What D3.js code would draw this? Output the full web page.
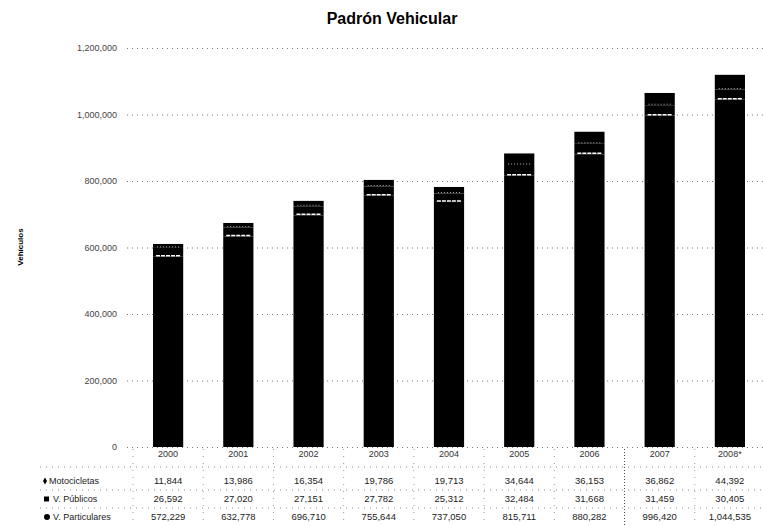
<!DOCTYPE html>
<html>
<head>
<meta charset="utf-8">
<script src="https://cdn.jsdelivr.net/npm/d3@7"></script>
<style>
  body { margin: 0; background: #fff; }
  text { font-family: "Liberation Sans", Arial, sans-serif; }
</style>
</head>
<body>
<script>
// Data
var years = ["2000", "2001", "2002", "2003", "2004", "2005", "2006", "2007", "2008*"];
var motocicletas = [11844, 13986, 16354, 19786, 19713, 34644, 36153, 36862, 44392];
var publicos = [26592, 27020, 27151, 27782, 25312, 32484, 31668, 31459, 30405];
var particulares = [572229, 632778, 696710, 755644, 737050, 815711, 880282, 996420, 1044535];
var seriesNames = ["Motocicletas", "V. Públicos", "V. Particulares"];
var yTicks = [0, 200000, 400000, 600000, 800000, 1000000, 1200000];

var width = 763;
var height = 526;

var svg = d3.select("body").append("svg")
    .attr("width", width)
    .attr("height", height);

var rows = years.map(function (y, i) {
    return { year: y, part: particulares[i], pub: publicos[i], moto: motocicletas[i] };
});

// Scales
var x = d3.scaleBand()
    .domain(years)
    .range([133, 765])
    .paddingInner(0.57)
    .paddingOuter(0.285);

var y = d3.scaleLinear()
    .domain([0, 1200000])
    .range([447, 48]);

var fmt = d3.format(",");

// Title
svg.append("text")
    .attr("x", 392)
    .attr("y", 24)
    .attr("text-anchor", "middle")
    .attr("font-size", "16px")
    .attr("font-weight", "bold")
    .text("Padrón Vehicular");

// Y label
svg.append("text")
    .attr("transform", "translate(23,247) rotate(-90)")
    .attr("text-anchor", "middle")
    .attr("font-size", "8px")
    .attr("font-weight", "bold")
    .text("Vehículos");

// Grid + axis
var yAxis = d3.axisLeft(y)
    .tickValues(yTicks)
    .tickSize(-(765 - 127))
    .tickPadding(10)
    .tickFormat(fmt);

var gy = svg.append("g")
    .attr("transform", "translate(127,0)")
    .call(yAxis);
gy.select(".domain").remove();
gy.selectAll(".tick line")
    .attr("stroke", "#777")
    .attr("stroke-dasharray", "1,4");
gy.selectAll(".tick text")
    .attr("font-size", "9px")
    .attr("fill", "#444");

// Stacked bars
var stack = d3.stack().keys(["part", "pub", "moto"]);
var layers = stack(rows);

svg.append("g")
    .selectAll("g")
    .data(layers)
    .enter().append("g")
    .selectAll("rect")
    .data(function (d) { return d; })
    .enter().append("rect")
    .attr("x", function (d) { return x(d.data.year); })
    .attr("width", x.bandwidth())
    .attr("y", function (d) { return y(d[1]); })
    .attr("height", function (d) { return y(d[0]) - y(d[1]); })
    .attr("fill", "#000");

// white separators between segments
svg.append("g")
    .selectAll("line")
    .data(layers[0])
    .enter().append("line")
    .attr("x1", function (d) { return x(d.data.year) + 3; })
    .attr("x2", function (d) { return x(d.data.year) + x.bandwidth() - 3; })
    .attr("y1", function (d) { return y(d[1]) - 1; })
    .attr("y2", function (d) { return y(d[1]) - 1; })
    .attr("stroke", "#fff")
    .attr("stroke-width", 1.5)
    .attr("stroke-dasharray", "4,1");

svg.append("g")
    .selectAll("line")
    .data(layers[1])
    .enter().append("line")
    .attr("x1", function (d) { return x(d.data.year) + 4; })
    .attr("x2", function (d) { return x(d.data.year) + x.bandwidth() - 4; })
    .attr("y1", function (d) { return y(d[1]) - 1; })
    .attr("y2", function (d) { return y(d[1]) - 1; })
    .attr("stroke", "#ddd")
    .attr("stroke-width", 0.8)
    .attr("stroke-dasharray", "1,2");

// Data table
var rowY = [457, 484, 502, 520];
var tableData = [motocicletas, publicos, particulares];
var table = svg.append("g").attr("class", "table");

// table grid (dotted)
[467, 490, 508].forEach(function (ly) {
    table.append("line")
        .attr("x1", 40).attr("x2", 765)
        .attr("y1", ly).attr("y2", ly)
        .attr("stroke", "#888")
        .attr("stroke-dasharray", "1,5");
});
years.forEach(function (yr, i) {
    var bx = x(yr) - (x.step() - x.bandwidth()) / 2;
    table.append("line")
        .attr("x1", bx).attr("x2", bx)
        .attr("y1", 449).attr("y2", 526)
        .attr("stroke", i == 7 ? "#444" : "#999")
        .attr("stroke-dasharray", i == 7 ? "1,2" : "1,6");
});

// year labels
table.selectAll(".yr")
    .data(years)
    .enter().append("text")
    .attr("x", function (d) { return x(d) + x.bandwidth() / 2; })
    .attr("y", rowY[0])
    .attr("text-anchor", "middle")
    .attr("font-size", "9px")
    .attr("fill", "#333")
    .text(function (d) { return d; });

// values
tableData.forEach(function (vals, r) {
    table.append("g")
        .selectAll("text")
        .data(vals)
        .enter().append("text")
        .attr("x", function (d, i) { return x(years[i]) + x.bandwidth() / 2; })
        .attr("y", rowY[r + 1])
        .attr("text-anchor", "middle")
        .attr("font-size", "9.5px")
        .attr("fill", "#222")
        .text(function (d) { return fmt(d); });
});

// row labels with markers
seriesNames.forEach(function (name, r) {
    var cy = rowY[r + 1] - 3;
    if (r == 0) {
        table.append("path")
            .attr("d", d3.symbol().type(d3.symbolDiamond).size(14)())
            .attr("transform", "translate(45," + cy + ")")
            .attr("fill", "#000");
    } else if (r == 1) {
        table.append("rect")
            .attr("x", 44).attr("y", cy - 2.5)
            .attr("width", 5).attr("height", 5)
            .attr("fill", "#000");
    } else {
        table.append("circle")
            .attr("cx", 47).attr("cy", cy)
            .attr("r", 3)
            .attr("fill", "#000");
    }
    table.append("text")
        .attr("x", r == 0 ? 49 : 53)
        .attr("y", rowY[r + 1])
        .attr("font-size", "9px")
        .attr("fill", "#222")
        .text(name);
});
</script>
</body>
</html>
